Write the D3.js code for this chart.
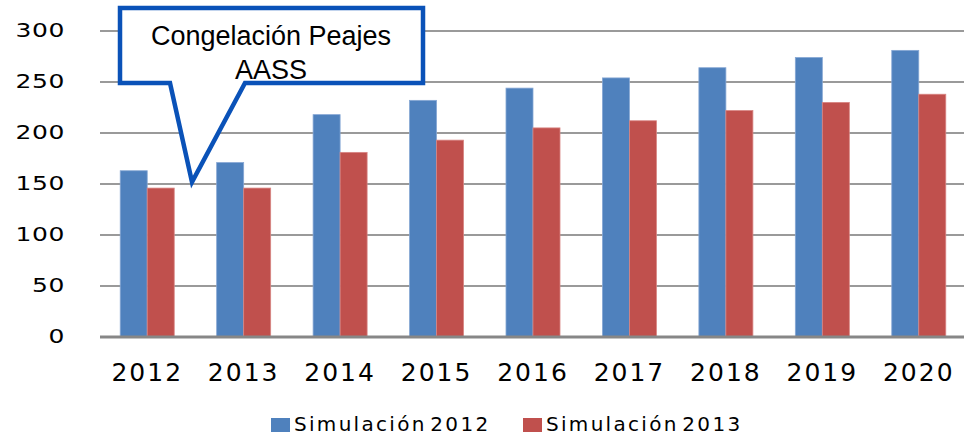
<!DOCTYPE html>
<html>
<head>
<meta charset="utf-8">
<script src="https://cdn.jsdelivr.net/npm/d3@7"></script>
<style>
  body { margin: 0; background: #fff; }
  svg { display: block; }
</style>
</head>
<body>
<div id="chart"></div>
<script>
const years = ['2012', '2013', '2014', '2015', '2016', '2017', '2018', '2019', '2020']
const sim2012 = [163, 171, 218, 232, 244, 254, 264, 274, 281]
const sim2013 = [146, 146, 181, 193, 205, 212, 222, 230, 238]
const seriesNames = ['Simulación 2012', 'Simulación 2013']
const yTicks = [0, 50, 100, 150, 200, 250, 300]
const calloutLines = ['Congelación Peajes', 'AASS']

const W = 964, H = 436
const colors = ['#4f81bd', '#c0504d']

const svg = d3.select('#chart').append('svg').attr('width', W).attr('height', H)

const x = d3.scaleBand().domain(years).range([99, 967]).paddingInner(0.44).paddingOuter(0.22)
const y = d3.scaleLinear().domain([0, 300]).range([337, 31])
const xs = d3.scaleBand().domain([0, 1]).range([0, x.bandwidth()])

// gridlines
svg.append('g').selectAll('line').data(yTicks.filter(d => d > 0)).join('line')
  .attr('x1', 100).attr('x2', W)
  .attr('y1', d => y(d)).attr('y2', d => y(d))
  .attr('stroke', '#9a9a9a').attr('stroke-width', 2)

// y axis labels (wide glyphs, like the original)
const yAxis = svg.append('g')
  .call(d3.axisLeft(y).tickValues(yTicks).tickSize(0).tickPadding(0))
yAxis.select('.domain').remove()
yAxis.selectAll('.tick').attr('transform', d => `translate(65,${y(d)}) scale(1.25,1)`)
yAxis.selectAll('text')
  .attr('font-family', 'DejaVu Sans').attr('font-size', 20).attr('fill', '#000')
  .style('letter-spacing', '0.5px')

// bars
const rows = years.map((yr, i) => ({ yr, vals: [sim2012[i], sim2013[i]] }))
const grp = svg.append('g').selectAll('g').data(rows).join('g')
  .attr('transform', d => `translate(${x(d.yr)},0)`)
grp.selectAll('rect').data(d => d.vals).join('rect')
  .attr('x', (d, i) => xs(i)).attr('width', xs.bandwidth())
  .attr('y', d => y(d)).attr('height', d => y(0) - y(d))
  .attr('fill', (d, i) => colors[i])
  .attr('stroke', (d, i) => i ? '#d88583' : '#86a7d4').attr('stroke-width', 0.8)

// x axis
const xAxis = svg.append('g').attr('transform', `translate(0,${y(0)})`)
  .call(d3.axisBottom(x).tickSize(0).tickPadding(26))
xAxis.select('.domain').remove()
xAxis.append('line').attr('x1', 100).attr('x2', W).attr('stroke', '#878787').attr('stroke-width', 3)
xAxis.selectAll('text')
  .attr('font-family', 'DejaVu Sans').attr('font-size', 25).attr('fill', '#000')
  .style('letter-spacing', '2px')

// legend
const leg = svg.append('g')
const legX = [271, 523]
seriesNames.forEach((name, i) => {
  leg.append('rect').attr('x', legX[i]).attr('y', 418).attr('width', 19).attr('height', 14).attr('fill', colors[i])
  leg.append('text').attr('x', legX[i] + 23).attr('y', 431)
    .attr('font-family', 'DejaVu Sans').attr('font-size', 20).attr('fill', '#000')
    .style('letter-spacing', '2.3px').style('word-spacing', '-5px').text(name)
})

// callout
const co = svg.append('g')
co.append('path')
  .attr('d', 'M120,8 L423,8 L423,83 L245,83 L192,182 L170,83 L120,83 Z')
  .attr('fill', '#fff').attr('stroke', '#0a52b8').attr('stroke-width', 4.5).attr('stroke-linejoin', 'miter')
co.selectAll('text').data(calloutLines).join('text')
  .attr('x', 271).attr('y', (d, i) => 45 + i * 34)
  .attr('text-anchor', 'middle')
  .attr('font-family', 'Liberation Sans, Arial').attr('font-size', 27).attr('fill', '#000')
  .text(d => d)
</script>
</body>
</html>
